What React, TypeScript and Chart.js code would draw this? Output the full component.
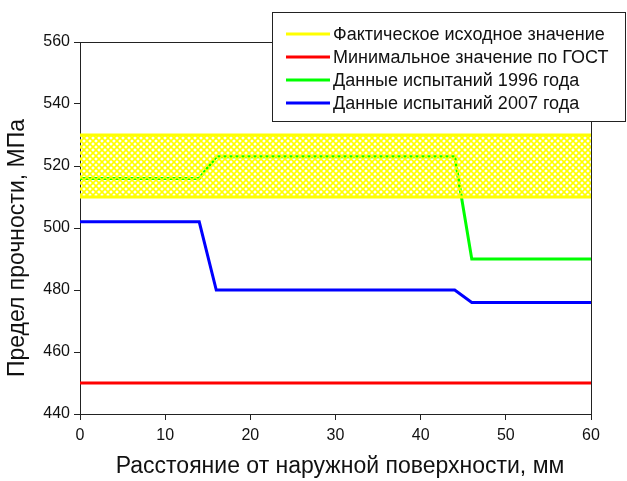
import React, { useEffect, useRef } from "react";
import { Chart, registerables } from "chart.js";

Chart.register(...registerables);

// Distance from the outer surface, mm
const bandX = [0, 60];
const factUpper = [530, 530];
const factLower = [510, 510];
const gostX = [0, 60];
const gostMin = [450, 450];
const x1996 = [0, 14, 16, 44, 46, 60];
const y1996 = [516, 516, 523, 523, 490, 490];
const x2007 = [0, 14, 16, 44, 46, 60];
const y2007 = [502, 502, 480, 480, 476, 476];

const xTicks = [0, 10, 20, 30, 40, 50, 60];
const yTicks = [440, 460, 480, 500, 520, 540, 560];

const legendLabels = [
  "Фактическое исходное значение",
  "Минимальное значение по ГОСТ",
  "Данные испытаний 1996 года",
  "Данные испытаний 2007 года",
];
const legendColors = ["#ffff00", "#ff0000", "#00ff00", "#0000ff"];

const xTitle = "Расстояние от наружной поверхности, мм";
const yTitle = "Предел прочности, МПа";

const FONT = '"Liberation Sans", Arial, sans-serif';

const pts = (xs: number[], ys: number[]) => xs.map((x, i) => ({ x, y: ys[i] }));

function makeHatch(): CanvasPattern | string {
  const c = document.createElement("canvas");
  const n = 6;
  c.width = n;
  c.height = n;
  const g = c.getContext("2d");
  if (!g) return "rgba(255,255,0,0.5)";
  g.strokeStyle = "#ffff00";
  g.lineWidth = 1.6;
  g.beginPath();
  g.moveTo(-1, -1);
  g.lineTo(n + 1, n + 1);
  g.moveTo(n + 1, -1);
  g.lineTo(-1, n + 1);
  g.stroke();
  return g.createPattern(c, "repeat") || "rgba(255,255,0,0.5)";
}

const framePlugin = {
  id: "frame",
  afterDraw(chart: any) {
    const { ctx, chartArea } = chart;
    const { left, right, top, bottom } = chartArea;
    ctx.save();
    // box on top and right
    ctx.strokeStyle = "#222";
    ctx.lineWidth = 1;
    ctx.beginPath();
    ctx.moveTo(left, top + 0.5);
    ctx.lineTo(right + 0.5, top + 0.5);
    ctx.lineTo(right + 0.5, bottom);
    ctx.stroke();

    // axis titles
    ctx.fillStyle = "#111";
    ctx.font = `23px ${FONT}`;
    ctx.textAlign = "center";
    ctx.textBaseline = "middle";
    ctx.fillText(xTitle, 340, 467);
    ctx.save();
    ctx.translate(18, 248);
    ctx.rotate(-Math.PI / 2);
    ctx.fillText(yTitle, 0, 0);
    ctx.restore();

    // legend
    const lx = 272.5, ly = 12.5, lw = 353, lh = 109;
    ctx.fillStyle = "#fff";
    ctx.fillRect(lx, ly, lw, lh);
    ctx.strokeStyle = "#222";
    ctx.strokeRect(lx, ly, lw, lh);
    ctx.font = `18px ${FONT}`;
    ctx.textAlign = "left";
    legendLabels.forEach((label, i) => {
      const y = 34 + i * 23;
      ctx.strokeStyle = legendColors[i];
      ctx.lineWidth = 3;
      ctx.beginPath();
      ctx.moveTo(286, y);
      ctx.lineTo(330, y);
      ctx.stroke();
      ctx.fillStyle = "#111";
      ctx.fillText(label, 333, y + 1);
    });
    ctx.restore();
  },
};

export default function App() {
  const ref = useRef<HTMLCanvasElement | null>(null);

  useEffect(() => {
    if (!ref.current) return;
    const hatch = makeHatch();
    const line = (color: string) => ({
      borderColor: color,
      borderWidth: 3,
      pointRadius: 0,
      tension: 0,
      fill: false,
    });
    const chart = new Chart(ref.current, {
      type: "line",
      data: {
        datasets: [
          {
            label: legendLabels[0],
            data: pts(bandX, factUpper),
            ...line("#ffff00"),
            fill: "+1",
            backgroundColor: hatch as any,
          },
          { label: legendLabels[0] + " (min)", data: pts(bandX, factLower), ...line("#ffff00") },
          { label: legendLabels[1], data: pts(gostX, gostMin), ...line("#ff0000") },
          { label: legendLabels[2], data: pts(x1996, y1996), ...line("#00ff00") },
          { label: legendLabels[3], data: pts(x2007, y2007), ...line("#0000ff") },
        ],
      },
      options: {
        animation: false,
        responsive: false,
        maintainAspectRatio: false,
        layout: { padding: { top: 42, right: 36, left: 0, bottom: 0 } },
        plugins: { legend: { display: false }, tooltip: { enabled: false } },
        scales: {
          x: {
            type: "linear",
            min: xTicks[0],
            max: xTicks[xTicks.length - 1],
            afterFit: (s: any) => { s.height = 67; },
            afterBuildTicks: (s: any) => { s.ticks = xTicks.map((v) => ({ value: v })); },
            grid: { drawOnChartArea: false, drawTicks: true, tickLength: 6, color: "#222" },
            border: { display: true, color: "#222", width: 1 },
            ticks: { color: "#111", font: { family: FONT, size: 16 }, padding: 6, maxRotation: 0 },
          },
          y: {
            type: "linear",
            min: yTicks[0],
            max: yTicks[yTicks.length - 1],
            afterFit: (s: any) => { s.width = 80; },
            afterBuildTicks: (s: any) => { s.ticks = yTicks.map((v) => ({ value: v })); },
            grid: { drawOnChartArea: false, drawTicks: true, tickLength: 6, color: "#222" },
            border: { display: true, color: "#222", width: 1 },
            ticks: { color: "#111", font: { family: FONT, size: 16 }, padding: 4 },
          },
        },
      },
      plugins: [framePlugin],
    });
    return () => chart.destroy();
  }, []);

  return (
    <div style={{ position: "absolute", left: 0, top: 0, width: 627, height: 481, background: "#fff" }}>
      <canvas ref={ref} width={627} height={481} style={{ width: 627, height: 481 }} />
    </div>
  );
}
